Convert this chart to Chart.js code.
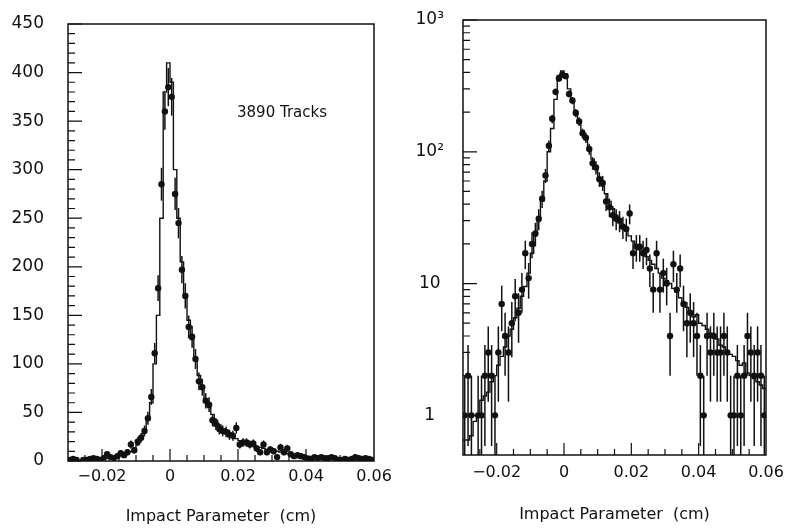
<!DOCTYPE html>
<html>
<head>
<meta charset="utf-8">
<script src="https://cdn.jsdelivr.net/npm/chart.js@4.4.1/dist/chart.umd.min.js"></script>
<style>
  body { margin: 0; background: #fff; }
  #wrap { position: relative; width: 790px; height: 530px; }
  canvas { position: absolute; top: 0; }
  #linChart { left: 0; }
  #logChart { left: 395px; }
</style>
</head>
<body>
<div id="wrap">
  <canvas id="linChart" width="395" height="530"></canvas>
  <canvas id="logChart" width="395" height="530"></canvas>
</div>
<script>
// bin centres (cm), bin width 0.001
const binCenters = [
  -0.0295, -0.0285, -0.0275, -0.0265, -0.0255, -0.0245, -0.0235, -0.0225, -0.0215, -0.0205,
  -0.0195, -0.0185, -0.0175, -0.0165, -0.0155, -0.0145, -0.0135, -0.0125, -0.0115, -0.0105,
  -0.0095, -0.0085, -0.0075, -0.0065, -0.0055, -0.0045, -0.0035, -0.0025, -0.0015, -0.0005,
  0.0005, 0.0015, 0.0025, 0.0035, 0.0045, 0.0055, 0.0065, 0.0075, 0.0085, 0.0095,
  0.0105, 0.0115, 0.0125, 0.0135, 0.0145, 0.0155, 0.0165, 0.0175, 0.0185, 0.0195,
  0.0205, 0.0215, 0.0225, 0.0235, 0.0245, 0.0255, 0.0265, 0.0275, 0.0285, 0.0295,
  0.0305, 0.0315, 0.0325, 0.0335, 0.0345, 0.0355, 0.0365, 0.0375, 0.0385, 0.0395,
  0.0405, 0.0415, 0.0425, 0.0435, 0.0445, 0.0455, 0.0465, 0.0475, 0.0485, 0.0495,
  0.0505, 0.0515, 0.0525, 0.0535, 0.0545, 0.0555, 0.0565, 0.0575, 0.0585, 0.0595
];
const binWidth = 0.001;

// simulated distribution (histogram line)
const mcCounts = [
  0.65, 0.65, 0.7, 0.9, 1.0, 1.3, 1.4, 1.5, 1.8, 2.0,
  2.4, 2.8, 3.3, 4.0, 4.5, 5.5, 6.5, 8.0, 9.5, 12,
  17, 23, 30, 42, 60, 100, 150, 250, 380, 410,
  390, 300, 250, 205, 172, 145, 125, 105, 88, 74,
  63, 55, 48, 42, 37, 33, 30, 27, 25, 23,
  21, 19.5, 18, 17, 16, 15, 14, 13, 12, 11,
  10.5, 10, 9.2, 8.6, 7.8, 7.2, 6.6, 6.0, 5.6, 5.8,
  5.0, 4.8, 4.5, 4.2, 4.0, 3.8, 3.4, 3.3, 3.1, 2.9,
  2.8, 2.6, 2.4, 2.5, 2.1, 2.0, 1.9, 1.8, 1.7, 1.6
];

// measured tracks (points with sqrt(n) error bars)
const dataCounts = [
  1, 2, 1, 0, 1, 1, 2, 3, 2, 1,
  3, 7, 4, 3, 5, 8, 6, 9, 17, 11,
  20, 24, 31, 44, 66, 111, 178, 285, 360, 385,
  375, 275, 245, 197, 170, 138, 128, 105, 82, 76,
  62, 58, 42, 38, 33, 31, 30, 27, 26, 34,
  17, 19, 19, 17, 18, 13, 9, 17, 9, 12,
  10, 4, 14, 9, 13, 7, 5, 6, 5, 4,
  2, 1, 4, 3, 4, 3, 3, 4, 3, 1,
  1, 2, 1, 2, 4, 3, 2, 3, 2, 1
];

const xTickValues = [-0.02, 0, 0.02, 0.04, 0.06];
const linTickValues = [0, 50, 100, 150, 200, 250, 300, 350, 400, 450];
const logTickValues = [1, 10, 100, 1000];
const logTickLabels = ['1', '10', '10²', '10³'];
const xTitle = 'Impact Parameter  (cm)';
const trackLabel = '3890 Tracks';

const FONT = '"DejaVu Sans", sans-serif';
const INK = '#111';

// histogram outline: one point per left bin edge + closing right edge
function stepPoints() {
  const pts = binCenters.map((c, i) => ({x: c - binWidth / 2, y: mcCounts[i]}));
  const last = binCenters.length - 1;
  pts.push({x: binCenters[last] + binWidth / 2, y: mcCounts[last]});
  return pts;
}

function dataPoints() {
  return binCenters.map((c, i) => ({x: c, y: dataCounts[i] > 0 ? dataCounts[i] : null}));
}

// invisible tick marks just to push the labels away from the frame
function spacer(len) {
  return {display: true, drawOnChartArea: false, drawTicks: true, tickLength: len, tickColor: 'rgba(0,0,0,0)'};
}

// frame, inward ticks and error bars
const framePlugin = {
  id: 'frame',
  afterDatasetsDraw(chart, args, opts) {
    const {ctx, chartArea: a, scales: {x, y}} = chart;
    ctx.save();

    // error bars
    ctx.beginPath();
    ctx.rect(a.left, a.top, a.right - a.left, a.bottom - a.top);
    ctx.clip();
    ctx.strokeStyle = INK;
    ctx.lineWidth = 1.5;
    binCenters.forEach((c, i) => {
      const n = dataCounts[i];
      if (n <= 0) return;
      const e = Math.sqrt(n);
      const px = x.getPixelForValue(c);
      const lo = n - e > 0 ? y.getPixelForValue(n - e) : a.bottom;
      const hi = y.getPixelForValue(n + e);
      ctx.beginPath();
      ctx.moveTo(px, lo);
      ctx.lineTo(px, hi);
      ctx.stroke();
    });
    ctx.restore();

    ctx.save();
    ctx.strokeStyle = INK;
    ctx.lineWidth = 1.5;
    ctx.strokeRect(a.left, a.top, a.right - a.left, a.bottom - a.top);

    ctx.lineWidth = 1.2;
    ctx.beginPath();
    // x ticks every 0.005, long ones at the labels
    for (let k = -5; k <= 11; k++) {
      const px = x.getPixelForValue(k * 0.005);
      const len = k % 4 === 0 ? 12 : 6;
      ctx.moveTo(px, a.bottom);
      ctx.lineTo(px, a.bottom - len);
    }
    // y ticks
    opts.yMinor.forEach(v => {
      const py = y.getPixelForValue(v);
      ctx.moveTo(a.left, py);
      ctx.lineTo(a.left + 7, py);
    });
    opts.yMajor.forEach(v => {
      const py = y.getPixelForValue(v);
      ctx.moveTo(a.left, py);
      ctx.lineTo(a.left + 14, py);
    });
    ctx.stroke();

    if (opts.note) {
      ctx.fillStyle = INK;
      ctx.font = '15px ' + FONT;
      ctx.textBaseline = 'middle';
      ctx.fillText(opts.note, opts.noteX, opts.noteY);
    }
    ctx.restore();
  }
};

function xFmt(v) {
  if (v === 0) return '0';
  const s = Math.abs(v).toFixed(2);
  return v < 0 ? '\u2212' + s : s;
}

function makeChart(canvasId, yScale, frameOpts, pad, xHeight, xGap) {
  const ctx = document.getElementById(canvasId).getContext('2d');
  return new Chart(ctx, {
    type: 'scatter',
    data: {
      datasets: [
        {
          label: 'simulation',
          data: stepPoints(),
          showLine: true,
          stepped: 'before',
          borderColor: INK,
          borderWidth: 1.4,
          pointRadius: 0,
          fill: false
        },
        {
          label: 'data',
          data: dataPoints(),
          showLine: false,
          pointRadius: 3.2,
          pointBackgroundColor: INK,
          pointBorderColor: INK,
          pointBorderWidth: 0
        }
      ]
    },
    options: {
      responsive: false,
      animation: false,
      layout: {padding: pad},
      plugins: {
        legend: {display: false},
        tooltip: {enabled: false},
        frame: frameOpts
      },
      scales: {
        x: {
          type: 'linear',
          min: -0.03,
          max: 0.06,
          grid: spacer(xGap),
          border: {display: false},
          afterBuildTicks: s => { s.ticks = xTickValues.map(v => ({value: v})); },
          afterFit: s => { s.height = xHeight; },
          ticks: {
            color: INK,
            padding: 0,
            maxRotation: 0,
            font: {family: FONT, size: 16},
            callback: v => xFmt(v)
          },
          title: {
            display: true,
            text: xTitle,
            color: INK,
            padding: {top: 0, bottom: 0},
            font: {family: FONT, size: 16}
          }
        },
        y: yScale
      }
    },
    plugins: [framePlugin]
  });
}

document.addEventListener('DOMContentLoaded', function() {
  // left panel: linear counts
  const linMinor = [];
  for (let v = 10; v < 450; v += 10) if (v % 50) linMinor.push(v);
  makeChart('linChart', {
    type: 'linear',
    min: 0,
    max: 450,
    grid: spacer(24),
    border: {display: false},
    afterBuildTicks: s => { s.ticks = linTickValues.map(v => ({value: v})); },
    afterFit: s => { s.width = 68; },
    ticks: {color: INK, padding: 0, font: {family: FONT, size: 17}}
  }, {
    yMinor: linMinor, yMajor: linTickValues,
    note: trackLabel, noteX: 237, noteY: 113
  }, {left: 0, top: 24, right: 21, bottom: 4}, 65, 6);

  // right panel: log counts
  const logMinor = [];
  [1, 10, 100].forEach(d => { for (let m = 2; m <= 9; m++) logMinor.push(m * d); });
  makeChart('logChart', {
    type: 'logarithmic',
    min: 0.5,
    max: 1000,
    grid: spacer(19),
    border: {display: false},
    afterBuildTicks: s => { s.ticks = logTickValues.map(v => ({value: v})); },
    afterFit: s => { s.width = 68; },
    ticks: {
      color: INK,
      padding: 0,
      crossAlign: 'center',
      font: {family: FONT, size: 17},
      callback: v => logTickLabels[logTickValues.indexOf(v)]
    }
  }, {
    yMinor: logMinor, yMajor: logTickValues
  }, {left: 0, top: 20, right: 24, bottom: 6}, 69, 8);
});
</script>
</body>
</html>
